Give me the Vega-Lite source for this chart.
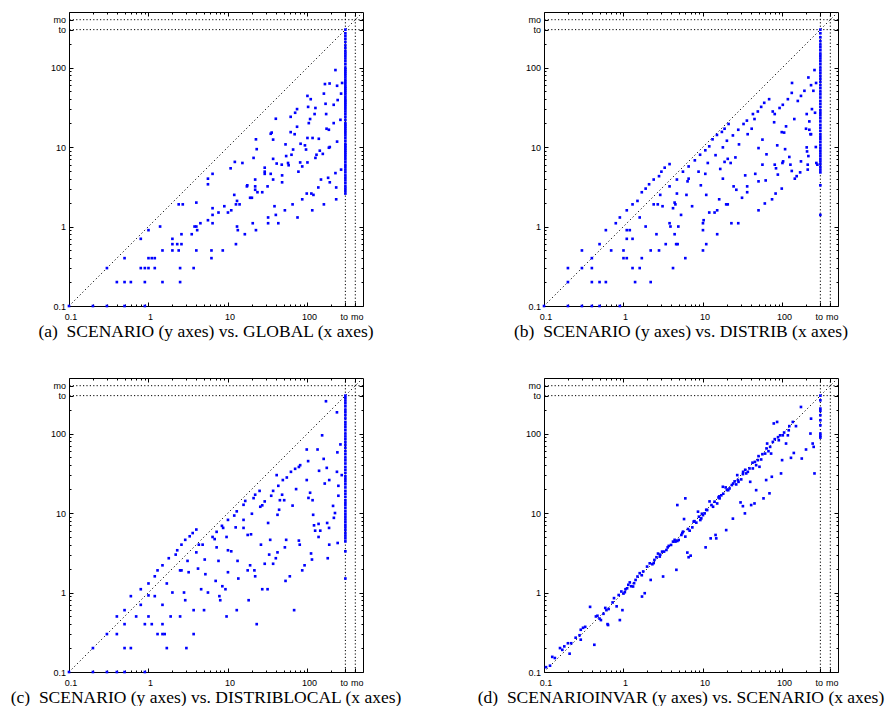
{
"$schema": "https://vega.github.io/schema/vega-lite/v6.json",
"background": "white",
"padding": {"left": 9, "top": 9, "right": 0, "bottom": 0},
"config": {
  "view": {"stroke": "black", "strokeWidth": 1},
  "axis": {"domain": false, "grid": false, "labelFont": "Liberation Sans", "labelFontSize": 9, "labelColor": "black", "tickColor": "black", "tickWidth": 1, "labelFlush": false, "labelOverlap": false, "titleFont": "Liberation Serif", "titleFontSize": 17.5, "titleFontWeight": "normal", "titleColor": "black"},
  "axisX": {"labelPadding": 10},
  "axisY": {"labelPadding": 7.5}
},
"bounds": "flush",
"columns": 2,
"spacing": {"row": 72, "column": 181},
"concat": [
 {"width": 294, "height": 294,
  "layer": [
   {"data": {"name": "guides"}, "mark": {"type": "rule", "color": "black", "strokeWidth": 1, "strokeDash": [1.2, 2.2]}, "encoding": {"x": {"field": "v", "type": "quantitative", "scale": {"type": "log", "domain": [0.1, 500], "nice": false}, "axis": null}}},
   {"data": {"name": "guides"}, "mark": {"type": "rule", "color": "black", "strokeWidth": 1, "strokeDash": [1.2, 2.2]}, "encoding": {"y": {"field": "v", "type": "quantitative", "scale": {"type": "log", "domain": [0.1, 500], "nice": false}, "axis": null}}},
   {"data": {"name": "diag"}, "mark": {"type": "line", "color": "black", "strokeWidth": 1, "strokeDash": [1.2, 2.6]},
    "encoding": {"x": {"field": "v", "type": "quantitative", "scale": {"type": "log", "domain": [0.1, 500], "nice": false}, "axis": {"orient": "top", "values": [0.1,1,10,100,300,400,0.2,0.3,0.4,0.5,0.6,0.7,0.8,0.9,2,3,4,5,6,7,8,9,20,30,40,50,60,70,80,90,200], "labels": false, "title": null, "tickSize": {"condition": {"test": "datum.value==0.1||datum.value==1||datum.value==10||datum.value==100||datum.value==300||datum.value==400", "value": -4}, "value": -2}}},
                 "y": {"field": "v", "type": "quantitative", "scale": {"type": "log", "domain": [0.1, 500], "nice": false}, "axis": {"orient": "right", "values": [0.1,1,10,100,300,400,0.2,0.3,0.4,0.5,0.6,0.7,0.8,0.9,2,3,4,5,6,7,8,9,20,30,40,50,60,70,80,90,200], "labels": false, "title": null, "tickSize": {"condition": {"test": "datum.value==0.1||datum.value==1||datum.value==10||datum.value==100||datum.value==300||datum.value==400", "value": -4}, "value": -2}}}}},
   {"data": {"name": "a"}, "mark": {"type": "square", "size": 7, "color": "#0000ff", "opacity": 1},
    "encoding": {"x": {"field": "x", "type": "quantitative", "scale": {"type": "log", "domain": [0.1, 500], "nice": false}, "axis": {"orient": "bottom", "values": [0.1,1,10,100,300,400,0.2,0.3,0.4,0.5,0.6,0.7,0.8,0.9,2,3,4,5,6,7,8,9,20,30,40,50,60,70,80,90,200], "labelExpr": "datum.value==300?'to':datum.value==400?'mo':datum.value==0.1?'0.1':datum.value==1?'1':datum.value==10?'10':datum.value==100?'100':''", "labelOffset": {"condition": {"test": "datum.value==300", "value": -1.5}, "value": 1.5}, "tickSize": {"condition": {"test": "datum.value==0.1||datum.value==1||datum.value==10||datum.value==100||datum.value==300||datum.value==400", "value": -4}, "value": -2}, "title": "(a)\u00a0\u00a0SCENARIO (y axes) vs. GLOBAL (x axes)", "titleX": 136.5, "titleY": 25, "titleBaseline": "middle", "titleAlign": "center"}},
                 "y": {"field": "y", "type": "quantitative", "scale": {"type": "log", "domain": [0.1, 500], "nice": false}, "axis": {"orient": "left", "values": [0.1,1,10,100,300,400,0.2,0.3,0.4,0.5,0.6,0.7,0.8,0.9,2,3,4,5,6,7,8,9,20,30,40,50,60,70,80,90,200], "labelExpr": "datum.value==300?'to':datum.value==400?'mo':datum.value==0.1?'0.1':datum.value==1?'1':datum.value==10?'10':datum.value==100?'100':''", "tickSize": {"condition": {"test": "datum.value==0.1||datum.value==1||datum.value==10||datum.value==100||datum.value==300||datum.value==400", "value": -4}, "value": -2}, "title": null}}}}
  ],
  "resolve": {"axis": {"x": "independent", "y": "independent"}}
 },
 {"width": 294, "height": 294,
  "layer": [
   {"data": {"name": "guides"}, "mark": {"type": "rule", "color": "black", "strokeWidth": 1, "strokeDash": [1.2, 2.2]}, "encoding": {"x": {"field": "v", "type": "quantitative", "scale": {"type": "log", "domain": [0.1, 500], "nice": false}, "axis": null}}},
   {"data": {"name": "guides"}, "mark": {"type": "rule", "color": "black", "strokeWidth": 1, "strokeDash": [1.2, 2.2]}, "encoding": {"y": {"field": "v", "type": "quantitative", "scale": {"type": "log", "domain": [0.1, 500], "nice": false}, "axis": null}}},
   {"data": {"name": "diag"}, "mark": {"type": "line", "color": "black", "strokeWidth": 1, "strokeDash": [1.2, 2.6]},
    "encoding": {"x": {"field": "v", "type": "quantitative", "scale": {"type": "log", "domain": [0.1, 500], "nice": false}, "axis": {"orient": "top", "values": [0.1,1,10,100,300,400,0.2,0.3,0.4,0.5,0.6,0.7,0.8,0.9,2,3,4,5,6,7,8,9,20,30,40,50,60,70,80,90,200], "labels": false, "title": null, "tickSize": {"condition": {"test": "datum.value==0.1||datum.value==1||datum.value==10||datum.value==100||datum.value==300||datum.value==400", "value": -4}, "value": -2}}},
                 "y": {"field": "v", "type": "quantitative", "scale": {"type": "log", "domain": [0.1, 500], "nice": false}, "axis": {"orient": "right", "values": [0.1,1,10,100,300,400,0.2,0.3,0.4,0.5,0.6,0.7,0.8,0.9,2,3,4,5,6,7,8,9,20,30,40,50,60,70,80,90,200], "labels": false, "title": null, "tickSize": {"condition": {"test": "datum.value==0.1||datum.value==1||datum.value==10||datum.value==100||datum.value==300||datum.value==400", "value": -4}, "value": -2}}}}},
   {"data": {"name": "b"}, "mark": {"type": "square", "size": 7, "color": "#0000ff", "opacity": 1},
    "encoding": {"x": {"field": "x", "type": "quantitative", "scale": {"type": "log", "domain": [0.1, 500], "nice": false}, "axis": {"orient": "bottom", "values": [0.1,1,10,100,300,400,0.2,0.3,0.4,0.5,0.6,0.7,0.8,0.9,2,3,4,5,6,7,8,9,20,30,40,50,60,70,80,90,200], "labelExpr": "datum.value==300?'to':datum.value==400?'mo':datum.value==0.1?'0.1':datum.value==1?'1':datum.value==10?'10':datum.value==100?'100':''", "labelOffset": {"condition": {"test": "datum.value==300", "value": -1.5}, "value": 1.5}, "tickSize": {"condition": {"test": "datum.value==0.1||datum.value==1||datum.value==10||datum.value==100||datum.value==300||datum.value==400", "value": -4}, "value": -2}, "title": "(b)\u00a0\u00a0SCENARIO (y axes) vs. DISTRIB (x axes)", "titleX": 136.5, "titleY": 25, "titleBaseline": "middle", "titleAlign": "center"}},
                 "y": {"field": "y", "type": "quantitative", "scale": {"type": "log", "domain": [0.1, 500], "nice": false}, "axis": {"orient": "left", "values": [0.1,1,10,100,300,400,0.2,0.3,0.4,0.5,0.6,0.7,0.8,0.9,2,3,4,5,6,7,8,9,20,30,40,50,60,70,80,90,200], "labelExpr": "datum.value==300?'to':datum.value==400?'mo':datum.value==0.1?'0.1':datum.value==1?'1':datum.value==10?'10':datum.value==100?'100':''", "tickSize": {"condition": {"test": "datum.value==0.1||datum.value==1||datum.value==10||datum.value==100||datum.value==300||datum.value==400", "value": -4}, "value": -2}, "title": null}}}}
  ],
  "resolve": {"axis": {"x": "independent", "y": "independent"}}
 },
 {"width": 294, "height": 294,
  "layer": [
   {"data": {"name": "guides"}, "mark": {"type": "rule", "color": "black", "strokeWidth": 1, "strokeDash": [1.2, 2.2]}, "encoding": {"x": {"field": "v", "type": "quantitative", "scale": {"type": "log", "domain": [0.1, 500], "nice": false}, "axis": null}}},
   {"data": {"name": "guides"}, "mark": {"type": "rule", "color": "black", "strokeWidth": 1, "strokeDash": [1.2, 2.2]}, "encoding": {"y": {"field": "v", "type": "quantitative", "scale": {"type": "log", "domain": [0.1, 500], "nice": false}, "axis": null}}},
   {"data": {"name": "diag"}, "mark": {"type": "line", "color": "black", "strokeWidth": 1, "strokeDash": [1.2, 2.6]},
    "encoding": {"x": {"field": "v", "type": "quantitative", "scale": {"type": "log", "domain": [0.1, 500], "nice": false}, "axis": {"orient": "top", "values": [0.1,1,10,100,300,400,0.2,0.3,0.4,0.5,0.6,0.7,0.8,0.9,2,3,4,5,6,7,8,9,20,30,40,50,60,70,80,90,200], "labels": false, "title": null, "tickSize": {"condition": {"test": "datum.value==0.1||datum.value==1||datum.value==10||datum.value==100||datum.value==300||datum.value==400", "value": -4}, "value": -2}}},
                 "y": {"field": "v", "type": "quantitative", "scale": {"type": "log", "domain": [0.1, 500], "nice": false}, "axis": {"orient": "right", "values": [0.1,1,10,100,300,400,0.2,0.3,0.4,0.5,0.6,0.7,0.8,0.9,2,3,4,5,6,7,8,9,20,30,40,50,60,70,80,90,200], "labels": false, "title": null, "tickSize": {"condition": {"test": "datum.value==0.1||datum.value==1||datum.value==10||datum.value==100||datum.value==300||datum.value==400", "value": -4}, "value": -2}}}}},
   {"data": {"name": "c"}, "mark": {"type": "square", "size": 7, "color": "#0000ff", "opacity": 1},
    "encoding": {"x": {"field": "x", "type": "quantitative", "scale": {"type": "log", "domain": [0.1, 500], "nice": false}, "axis": {"orient": "bottom", "values": [0.1,1,10,100,300,400,0.2,0.3,0.4,0.5,0.6,0.7,0.8,0.9,2,3,4,5,6,7,8,9,20,30,40,50,60,70,80,90,200], "labelExpr": "datum.value==300?'to':datum.value==400?'mo':datum.value==0.1?'0.1':datum.value==1?'1':datum.value==10?'10':datum.value==100?'100':''", "labelOffset": {"condition": {"test": "datum.value==300", "value": -1.5}, "value": 1.5}, "tickSize": {"condition": {"test": "datum.value==0.1||datum.value==1||datum.value==10||datum.value==100||datum.value==300||datum.value==400", "value": -4}, "value": -2}, "title": "(c)\u00a0\u00a0SCENARIO (y axes) vs. DISTRIBLOCAL (x axes)", "titleX": 136.5, "titleY": 25, "titleBaseline": "middle", "titleAlign": "center"}},
                 "y": {"field": "y", "type": "quantitative", "scale": {"type": "log", "domain": [0.1, 500], "nice": false}, "axis": {"orient": "left", "values": [0.1,1,10,100,300,400,0.2,0.3,0.4,0.5,0.6,0.7,0.8,0.9,2,3,4,5,6,7,8,9,20,30,40,50,60,70,80,90,200], "labelExpr": "datum.value==300?'to':datum.value==400?'mo':datum.value==0.1?'0.1':datum.value==1?'1':datum.value==10?'10':datum.value==100?'100':''", "tickSize": {"condition": {"test": "datum.value==0.1||datum.value==1||datum.value==10||datum.value==100||datum.value==300||datum.value==400", "value": -4}, "value": -2}, "title": null}}}}
  ],
  "resolve": {"axis": {"x": "independent", "y": "independent"}}
 },
 {"width": 294, "height": 294,
  "layer": [
   {"data": {"name": "guides"}, "mark": {"type": "rule", "color": "black", "strokeWidth": 1, "strokeDash": [1.2, 2.2]}, "encoding": {"x": {"field": "v", "type": "quantitative", "scale": {"type": "log", "domain": [0.1, 500], "nice": false}, "axis": null}}},
   {"data": {"name": "guides"}, "mark": {"type": "rule", "color": "black", "strokeWidth": 1, "strokeDash": [1.2, 2.2]}, "encoding": {"y": {"field": "v", "type": "quantitative", "scale": {"type": "log", "domain": [0.1, 500], "nice": false}, "axis": null}}},
   {"data": {"name": "diag"}, "mark": {"type": "line", "color": "black", "strokeWidth": 1, "strokeDash": [1.2, 2.6]},
    "encoding": {"x": {"field": "v", "type": "quantitative", "scale": {"type": "log", "domain": [0.1, 500], "nice": false}, "axis": {"orient": "top", "values": [0.1,1,10,100,300,400,0.2,0.3,0.4,0.5,0.6,0.7,0.8,0.9,2,3,4,5,6,7,8,9,20,30,40,50,60,70,80,90,200], "labels": false, "title": null, "tickSize": {"condition": {"test": "datum.value==0.1||datum.value==1||datum.value==10||datum.value==100||datum.value==300||datum.value==400", "value": -4}, "value": -2}}},
                 "y": {"field": "v", "type": "quantitative", "scale": {"type": "log", "domain": [0.1, 500], "nice": false}, "axis": {"orient": "right", "values": [0.1,1,10,100,300,400,0.2,0.3,0.4,0.5,0.6,0.7,0.8,0.9,2,3,4,5,6,7,8,9,20,30,40,50,60,70,80,90,200], "labels": false, "title": null, "tickSize": {"condition": {"test": "datum.value==0.1||datum.value==1||datum.value==10||datum.value==100||datum.value==300||datum.value==400", "value": -4}, "value": -2}}}}},
   {"data": {"name": "d"}, "mark": {"type": "square", "size": 7, "color": "#0000ff", "opacity": 1},
    "encoding": {"x": {"field": "x", "type": "quantitative", "scale": {"type": "log", "domain": [0.1, 500], "nice": false}, "axis": {"orient": "bottom", "values": [0.1,1,10,100,300,400,0.2,0.3,0.4,0.5,0.6,0.7,0.8,0.9,2,3,4,5,6,7,8,9,20,30,40,50,60,70,80,90,200], "labelExpr": "datum.value==300?'to':datum.value==400?'mo':datum.value==0.1?'0.1':datum.value==1?'1':datum.value==10?'10':datum.value==100?'100':''", "labelOffset": {"condition": {"test": "datum.value==300", "value": -1.5}, "value": 1.5}, "tickSize": {"condition": {"test": "datum.value==0.1||datum.value==1||datum.value==10||datum.value==100||datum.value==300||datum.value==400", "value": -4}, "value": -2}, "title": "(d)\u00a0\u00a0SCENARIOINVAR (y axes) vs. SCENARIO (x axes)", "titleX": 136.5, "titleY": 25, "titleBaseline": "middle", "titleAlign": "center"}},
                 "y": {"field": "y", "type": "quantitative", "scale": {"type": "log", "domain": [0.1, 500], "nice": false}, "axis": {"orient": "left", "values": [0.1,1,10,100,300,400,0.2,0.3,0.4,0.5,0.6,0.7,0.8,0.9,2,3,4,5,6,7,8,9,20,30,40,50,60,70,80,90,200], "labelExpr": "datum.value==300?'to':datum.value==400?'mo':datum.value==0.1?'0.1':datum.value==1?'1':datum.value==10?'10':datum.value==100?'100':''", "tickSize": {"condition": {"test": "datum.value==0.1||datum.value==1||datum.value==10||datum.value==100||datum.value==300||datum.value==400", "value": -4}, "value": -2}, "title": null}}}}
  ],
  "resolve": {"axis": {"x": "independent", "y": "independent"}}
 }
],
"datasets": {
 "guides": [{"v": 300}, {"v": 400}],
 "diag": [{"v": 0.1}, {"v": 500}],
 "a": [
  {"x":0.1,"y":0.1},{"x":0.2,"y":0.1},{"x":0.3,"y":0.1},{"x":0.5,"y":0.1},{"x":0.9,"y":0.1},
  {"x":0.3,"y":0.3},{"x":0.4,"y":0.2},{"x":0.5,"y":0.4},{"x":0.5,"y":0.2},{"x":0.6,"y":0.2},{"x":0.8,"y":0.7},{"x":0.8,"y":0.3},{"x":0.9,"y":0.3},{"x":0.9,"y":0.2},{"x":1.0,"y":0.3},{"x":1.0,"y":0.9},{"x":1.0,"y":0.4},{"x":1.1,"y":0.4},{"x":1.2,"y":0.4},{"x":1.2,"y":0.3},{"x":1.4,"y":1.0},{"x":1.5,"y":0.5},{"x":1.5,"y":0.2},{"x":2,"y":0.7},{"x":2,"y":0.6},{"x":2,"y":0.5},{"x":2.3,"y":0.6},{"x":2.4,"y":0.5},{"x":2.4,"y":1.9},{"x":2.7,"y":1.9},{"x":2.6,"y":0.6},{"x":2.5,"y":0.3},{"x":2.5,"y":0.2},{"x":2.6,"y":0.8},{"x":3.5,"y":0.8},{"x":3.7,"y":0.3},{"x":3.8,"y":1.0},{"x":4.0,"y":1.0},{"x":4.1,"y":0.9},{"x":4.0,"y":2.0},{"x":4.0,"y":0.5},{"x":4.5,"y":1.1},{"x":5.6,"y":4.0},{"x":5.6,"y":3.4},{"x":5.6,"y":1.2},{"x":6.2,"y":0.5},{"x":6.2,"y":0.4},{"x":6.4,"y":4.6},{"x":6.4,"y":1.7},{"x":6.4,"y":1.4},{"x":6.4,"y":1.1},{"x":7.6,"y":1.5},{"x":8.6,"y":0.5},{"x":9,"y":1.8},{"x":10,"y":1.5},{"x":10.8,"y":5.4},{"x":11,"y":1.6},{"x":12,"y":2.5},{"x":12.2,"y":6.5},{"x":12.6,"y":0.6},{"x":12.6,"y":1.9},{"x":13,"y":1.0},{"x":13.3,"y":0.9},{"x":13,"y":2.1},{"x":14,"y":1.9},{"x":15.2,"y":6.3},{"x":16.3,"y":0.8},{"x":17.3,"y":3.2},{"x":17.5,"y":3.3},{"x":19,"y":2.3},{"x":20,"y":2.3},{"x":20.5,"y":1.1},{"x":21,"y":7.3},{"x":22,"y":3.9},{"x":22,"y":3.2},{"x":22,"y":2.9},{"x":22.5,"y":12.5},{"x":23,"y":9.4},{"x":22.5,"y":0.9},{"x":23.5,"y":2.7},{"x":27,"y":2.7},{"x":29,"y":5.5},{"x":29,"y":4.9},{"x":29,"y":4.6},{"x":31.5,"y":3.2},{"x":32,"y":1.3},{"x":32,"y":1.1},{"x":34.5,"y":14.7},{"x":35.5,"y":15.2},{"x":34.5,"y":4.6},{"x":37,"y":12.4},{"x":37,"y":3.9},{"x":37,"y":7.1},{"x":38.5,"y":1.8},{"x":40,"y":1.4},{"x":40,"y":22.7},{"x":41,"y":6.2},{"x":43,"y":1.1},{"x":47.5,"y":6.0},{"x":48,"y":4.4},{"x":48,"y":3.6},{"x":52,"y":1.6},{"x":53,"y":10.8},{"x":54,"y":7.7},{"x":57,"y":6.3},{"x":58,"y":5.9},{"x":61.5,"y":24},{"x":61.5,"y":15.4},{"x":63,"y":8.0},{"x":65,"y":1.9},{"x":66,"y":9.3},{"x":69,"y":14.5},{"x":70,"y":27},{"x":74,"y":30},{"x":74,"y":18},{"x":75,"y":1.3},{"x":77,"y":4.9},{"x":81,"y":6.4},{"x":82,"y":11},{"x":86,"y":5.7},{"x":86,"y":2.2},{"x":93,"y":10.5},{"x":96,"y":9.3},{"x":98,"y":2.6},{"x":100,"y":44},{"x":100,"y":13},{"x":100,"y":6.4},{"x":102,"y":32},{"x":104,"y":20},{"x":108,"y":22.5},{"x":110,"y":40},{"x":112,"y":2.6},{"x":115,"y":1.6},{"x":116,"y":13},{"x":119,"y":2.5},{"x":123,"y":26},{"x":126,"y":31},{"x":126,"y":7.3},{"x":130,"y":8.0},{"x":137,"y":3.1},{"x":139,"y":12.7},{"x":143,"y":9.0},{"x":148,"y":3.9},{"x":156,"y":8.2},{"x":161,"y":47},{"x":166,"y":62},{"x":190,"y":63},{"x":169,"y":35},{"x":172,"y":26},{"x":174,"y":17},{"x":186,"y":16.5},{"x":186,"y":9.8},{"x":191,"y":10},{"x":161,"y":1.9},{"x":182,"y":4.1},{"x":191,"y":3.6},{"x":214,"y":20},{"x":214,"y":34},{"x":225,"y":93},{"x":225,"y":4.7},{"x":230,"y":3.1},{"x":230,"y":2.2},{"x":236,"y":59},{"x":236,"y":11.7},{"x":240,"y":39},{"x":260,"y":22},{"x":265,"y":5.2},{"x":265,"y":47},{"x":273,"y":64},
  {"x":300,"y":300},{"x":300,"y":270},{"x":300,"y":250},{"x":300,"y":230},{"x":300,"y":210},{"x":300,"y":190},{"x":300,"y":175},{"x":300,"y":160},{"x":300,"y":150},{"x":300,"y":140},{"x":300,"y":130},{"x":300,"y":120},{"x":300,"y":110},{"x":300,"y":100},{"x":300,"y":95},{"x":300,"y":90},{"x":300,"y":85},{"x":300,"y":80},{"x":300,"y":75},{"x":300,"y":70},{"x":300,"y":66},{"x":300,"y":62},{"x":300,"y":58},{"x":300,"y":55},{"x":300,"y":52},{"x":300,"y":49},{"x":300,"y":46},{"x":300,"y":43},{"x":300,"y":40},{"x":300,"y":38},{"x":300,"y":36},{"x":300,"y":34},{"x":300,"y":32},{"x":300,"y":30},{"x":300,"y":28},{"x":300,"y":26},{"x":300,"y":24},{"x":300,"y":22},{"x":300,"y":20},{"x":300,"y":19},{"x":300,"y":18},{"x":300,"y":17},{"x":300,"y":16},{"x":300,"y":15},{"x":300,"y":14},{"x":300,"y":13},{"x":300,"y":12},{"x":300,"y":11},{"x":300,"y":10.5},{"x":300,"y":10},{"x":300,"y":9.5},{"x":300,"y":9},{"x":300,"y":8.5},{"x":300,"y":8},{"x":300,"y":7.5},{"x":300,"y":7},{"x":300,"y":6.5},{"x":300,"y":6},{"x":300,"y":5.6},{"x":300,"y":5.2},{"x":300,"y":4.8},{"x":300,"y":4.4},{"x":300,"y":4.1},{"x":300,"y":3.8},{"x":300,"y":3.5},{"x":300,"y":3.2},{"x":300,"y":3.0},{"x":300,"y":2.8},{"x":300,"y":2.6}
 ],
 "b": [
  {"x":0.1,"y":0.1},{"x":0.2,"y":0.1},{"x":0.3,"y":0.1},{"x":0.4,"y":0.1},{"x":0.5,"y":0.1},{"x":0.9,"y":0.1},
  {"x":0.2,"y":0.3},{"x":0.2,"y":0.2},{"x":0.3,"y":0.5},{"x":0.3,"y":0.3},{"x":0.4,"y":0.4},{"x":0.4,"y":0.3},{"x":0.4,"y":0.2},{"x":0.5,"y":0.6},{"x":0.5,"y":0.2},{"x":0.6,"y":0.2},{"x":0.6,"y":0.9},{"x":0.7,"y":0.5},{"x":0.8,"y":1.1},{"x":0.9,"y":1.3},{"x":1.0,"y":0.5},{"x":1.0,"y":0.4},{"x":1.1,"y":1.6},{"x":1.1,"y":0.9},{"x":1.2,"y":0.9},{"x":1.1,"y":0.7},{"x":1.1,"y":0.4},{"x":1.3,"y":1.9},{"x":1.3,"y":0.7},{"x":1.3,"y":0.3},{"x":1.4,"y":0.2},{"x":1.5,"y":2.1},{"x":1.6,"y":1.3},{"x":1.6,"y":0.3},{"x":1.7,"y":2.7},{"x":1.7,"y":0.4},{"x":1.9,"y":3.0},{"x":1.9,"y":1.0},{"x":2.1,"y":3.4},{"x":2.2,"y":0.5},{"x":2.2,"y":0.2},{"x":2.4,"y":3.9},{"x":2.4,"y":1.9},{"x":2.7,"y":1.9},{"x":2.6,"y":0.8},{"x":2.8,"y":4.3},{"x":2.8,"y":0.5},{"x":2.9,"y":2.5},{"x":3.0,"y":4.9},{"x":3.1,"y":1.8},{"x":3.3,"y":5.5},{"x":3.4,"y":0.6},{"x":3.8,"y":6.1},{"x":3.8,"y":3.2},{"x":3.8,"y":1.1},{"x":3.9,"y":1.0},{"x":4.2,"y":1.7},{"x":4.4,"y":2.0},{"x":4.5,"y":1.9},{"x":4.2,"y":0.3},{"x":4.4,"y":0.8},{"x":4.6,"y":0.6},{"x":4.8,"y":0.6},{"x":4.7,"y":3.9},{"x":4.7,"y":2.6},{"x":4.9,"y":1.0},{"x":5.3,"y":1.4},{"x":5.6,"y":4.9},{"x":6.0,"y":0.4},{"x":6.2,"y":2.5},{"x":6.4,"y":3.7},{"x":6.6,"y":4.0},{"x":6.6,"y":5.7},{"x":7.3,"y":1.8},{"x":7.9,"y":6.8},{"x":8.8,"y":4.9},{"x":9.2,"y":8.0},{"x":9.4,"y":3.3},{"x":10,"y":1.1},{"x":10.2,"y":1.2},{"x":10,"y":0.9},{"x":10,"y":0.5},{"x":10.7,"y":9.1},{"x":10.7,"y":4.6},{"x":11,"y":0.6},{"x":11.5,"y":6.3},{"x":11,"y":2.5},{"x":12,"y":10.2},{"x":12,"y":1.5},{"x":13.2,"y":12.5},{"x":14,"y":1.5},{"x":14.4,"y":7.9},{"x":15,"y":14.2},{"x":15.1,"y":1.6},{"x":15.1,"y":0.8},{"x":16,"y":2.2},{"x":16.5,"y":5.3},{"x":17.3,"y":15.5},{"x":17.8,"y":9.9},{"x":17.8,"y":4.0},{"x":18.7,"y":17},{"x":18.7,"y":6.5},{"x":19.6,"y":1.9},{"x":20.5,"y":1.9},{"x":20,"y":12},{"x":20.5,"y":7.1},{"x":21,"y":19.5},{"x":22.3,"y":6.3},{"x":22.8,"y":1.1},{"x":23.8,"y":14},{"x":24.3,"y":3.2},{"x":26.3,"y":2.9},{"x":27.8,"y":1.1},{"x":25.6,"y":7.4},{"x":27.8,"y":16.5},{"x":28.4,"y":10.8},{"x":31,"y":2.3},{"x":32.4,"y":19.5},{"x":34,"y":4.4},{"x":35.7,"y":21.5},{"x":36,"y":3.2},{"x":36,"y":2.7},{"x":36.5,"y":14.5},{"x":41,"y":17},{"x":42.5,"y":26},{"x":44.5,"y":22.5},{"x":45.5,"y":4.6},{"x":49,"y":28},{"x":50,"y":9.7},{"x":50,"y":1.6},{"x":50,"y":3.7},{"x":54,"y":32},{"x":56,"y":6.0},{"x":56,"y":12.4},{"x":59,"y":36},{"x":60,"y":1.95},{"x":61.5,"y":3.8},{"x":63,"y":8.1},{"x":68,"y":40},{"x":74,"y":2.2},{"x":75.5,"y":28},{"x":78.6,"y":20.5},{"x":80,"y":26},{"x":80,"y":6.0},{"x":83,"y":5.4},{"x":82,"y":2.6},{"x":86,"y":10.5},{"x":87.5,"y":4.5},{"x":92,"y":31},{"x":98,"y":15.4},{"x":101,"y":34},{"x":98,"y":3.0},{"x":100,"y":6.3},{"x":102,"y":6.6},{"x":105,"y":15.2},{"x":108,"y":9.4},{"x":111,"y":18.2},{"x":117,"y":40},{"x":122,"y":7.5},{"x":126,"y":6.0},{"x":131,"y":5.0},{"x":131,"y":48},{"x":132,"y":64},{"x":141,"y":22.5},{"x":143,"y":4.0},{"x":151,"y":4.3},{"x":156,"y":38},{"x":167,"y":4.8},{"x":171,"y":44},{"x":171,"y":6.6},{"x":189,"y":51},{"x":198,"y":17},{"x":202,"y":26},{"x":202,"y":9.9},{"x":204,"y":8.8},{"x":208,"y":6.0},{"x":208,"y":5.2},{"x":212,"y":7.7},{"x":212,"y":75},{"x":218,"y":21},{"x":218,"y":16.5},{"x":225,"y":14.5},{"x":229,"y":14.5},{"x":229,"y":60},{"x":235,"y":30},{"x":245,"y":51},{"x":253,"y":93},{"x":257,"y":27},{"x":265,"y":64},{"x":263,"y":10},{"x":267,"y":6.3},{"x":275,"y":6.0},
  {"x":300,"y":300},{"x":300,"y":270},{"x":300,"y":240},{"x":300,"y":215},{"x":300,"y":195},{"x":300,"y":180},{"x":300,"y":165},{"x":300,"y":150},{"x":300,"y":140},{"x":300,"y":130},{"x":300,"y":120},{"x":300,"y":110},{"x":300,"y":100},{"x":300,"y":92},{"x":300,"y":85},{"x":300,"y":78},{"x":300,"y":72},{"x":300,"y":66},{"x":300,"y":60},{"x":300,"y":55},{"x":300,"y":50},{"x":300,"y":46},{"x":300,"y":42},{"x":300,"y":38},{"x":300,"y":35},{"x":300,"y":32},{"x":300,"y":29},{"x":300,"y":27},{"x":300,"y":25},{"x":300,"y":23},{"x":300,"y":21},{"x":300,"y":19},{"x":300,"y":17.5},{"x":300,"y":16},{"x":300,"y":14.5},{"x":300,"y":13.5},{"x":300,"y":12.5},{"x":300,"y":11.5},{"x":300,"y":10.5},{"x":300,"y":9.7},{"x":300,"y":9},{"x":300,"y":8.3},{"x":300,"y":7.7},{"x":300,"y":7.1},{"x":300,"y":6.6},{"x":300,"y":6.1},{"x":300,"y":5.6},{"x":300,"y":5.2},{"x":300,"y":4.8},{"x":300,"y":3.3},{"x":300,"y":1.4}
 ],
 "c": [
  {"x":0.1,"y":0.1},{"x":0.2,"y":0.1},{"x":0.3,"y":0.1},{"x":0.4,"y":0.1},{"x":0.5,"y":0.1},{"x":0.9,"y":0.1},
  {"x":0.2,"y":0.2},{"x":0.3,"y":0.3},{"x":0.4,"y":0.5},{"x":0.4,"y":0.3},{"x":0.5,"y":0.6},{"x":0.5,"y":0.4},{"x":0.5,"y":0.2},{"x":0.6,"y":0.2},{"x":0.6,"y":0.9},{"x":0.7,"y":0.5},{"x":0.8,"y":1.1},{"x":0.8,"y":0.7},{"x":0.9,"y":0.4},{"x":1.0,"y":1.3},{"x":1.0,"y":0.92},{"x":1.0,"y":0.5},{"x":1.1,"y":0.4},{"x":1.2,"y":1.6},{"x":1.2,"y":0.9},{"x":1.3,"y":1.9},{"x":1.3,"y":0.3},{"x":1.5,"y":2.2},{"x":1.5,"y":0.7},{"x":1.5,"y":0.4},{"x":1.5,"y":0.3},{"x":1.6,"y":0.3},{"x":1.7,"y":1.3},{"x":1.7,"y":0.2},{"x":1.8,"y":2.7},{"x":1.9,"y":0.5},{"x":2.0,"y":1.0},{"x":2.2,"y":3.0},{"x":2.3,"y":3.4},{"x":2.5,"y":1.9},{"x":2.6,"y":1.9},{"x":2.5,"y":0.5},{"x":2.6,"y":4.0},{"x":2.8,"y":1.0},{"x":2.9,"y":0.8},{"x":2.9,"y":4.6},{"x":3.0,"y":0.2},{"x":3.1,"y":2.5},{"x":3.2,"y":1.8},{"x":3.3,"y":5.1},{"x":3.6,"y":5.6},{"x":3.7,"y":0.6},{"x":3.7,"y":0.3},{"x":4.0,"y":6.2},{"x":4.0,"y":3.2},{"x":4.2,"y":2.0},{"x":4.3,"y":4.0},{"x":4.8,"y":4.0},{"x":4.6,"y":1.1},{"x":5.0,"y":0.6},{"x":5.1,"y":2.6},{"x":5.2,"y":1.7},{"x":5.6,"y":1.0},{"x":6.4,"y":5.0},{"x":6.8,"y":4.7},{"x":7.2,"y":3.7},{"x":7.0,"y":1.4},{"x":7.2,"y":5.8},{"x":7.6,"y":2.5},{"x":7.8,"y":0.9},{"x":8.0,"y":0.8},{"x":8.4,"y":6.9},{"x":8.7,"y":6.5},{"x":8.5,"y":1.2},{"x":9.3,"y":1.1},{"x":9.6,"y":5.0},{"x":10,"y":3.4},{"x":10,"y":1.8},{"x":9.6,"y":0.5},{"x":10,"y":8.2},{"x":11,"y":3.3},{"x":12,"y":9.3},{"x":12.5,"y":6.6},{"x":12.9,"y":10.5},{"x":13.2,"y":2.5},{"x":13.5,"y":1.5},{"x":12.9,"y":0.6},{"x":15.7,"y":12.7},{"x":15.7,"y":8.2},{"x":15.7,"y":6.5},{"x":16.5,"y":14.2},{"x":17.7,"y":5.3},{"x":17.7,"y":1.9},{"x":18.2,"y":0.8},{"x":19,"y":2.2},{"x":19.5,"y":5.4},{"x":20,"y":9.8},{"x":21,"y":15.4},{"x":22,"y":17},{"x":21.5,"y":1.9},{"x":22,"y":1.6},{"x":23,"y":0.4},{"x":25,"y":19},{"x":25.5,"y":12},{"x":27,"y":12.5},{"x":26,"y":4.0},{"x":27,"y":1.1},{"x":29,"y":14},{"x":29,"y":2.3},{"x":31.5,"y":1.1},{"x":32,"y":7.5},{"x":33,"y":3.0},{"x":34,"y":4.6},{"x":35,"y":16.5},{"x":37,"y":19},{"x":37,"y":2.3},{"x":40,"y":2.7},{"x":41,"y":30},{"x":42,"y":9.5},{"x":42,"y":3.2},{"x":43,"y":22},{"x":44,"y":11},{"x":45,"y":14.5},{"x":48,"y":17},{"x":49,"y":26},{"x":51,"y":14.5},{"x":52,"y":3.7},{"x":53,"y":1.4},{"x":55,"y":28},{"x":54,"y":4.6},{"x":60,"y":1.6},{"x":62,"y":33},{"x":65,"y":12.4},{"x":68,"y":0.6},{"x":70,"y":36},{"x":72,"y":20},{"x":78,"y":4.5},{"x":80,"y":4.0},{"x":78,"y":38},{"x":81,"y":40},{"x":86,"y":1.9},{"x":92,"y":2.2},{"x":98,"y":63},{"x":102,"y":45},{"x":98,"y":26},{"x":103,"y":15.5},{"x":108,"y":18},{"x":111,"y":3.1},{"x":114,"y":2.6},{"x":116,"y":14.5},{"x":118,"y":9.5},{"x":121,"y":7},{"x":125,"y":6},{"x":134,"y":63},{"x":138,"y":7.3},{"x":138,"y":5.0},{"x":140,"y":34},{"x":145,"y":6},{"x":153,"y":95},{"x":160,"y":48},{"x":165,"y":23.5},{"x":175,"y":37},{"x":171,"y":255},{"x":177,"y":7.5},{"x":180,"y":2.7},{"x":187,"y":6.5},{"x":188,"y":26},{"x":188,"y":4.0},{"x":210,"y":12.3},{"x":215,"y":8.7},{"x":222,"y":10},{"x":235,"y":33},{"x":235,"y":185},{"x":238,"y":58},{"x":240,"y":4.2},{"x":245,"y":16.5},{"x":245,"y":22},{"x":260,"y":73},{"x":270,"y":30},
  {"x":300,"y":300},{"x":300,"y":280},{"x":300,"y":260},{"x":300,"y":240},{"x":300,"y":220},{"x":300,"y":200},{"x":300,"y":185},{"x":300,"y":170},{"x":300,"y":155},{"x":300,"y":140},{"x":300,"y":130},{"x":300,"y":120},{"x":300,"y":110},{"x":300,"y":100},{"x":300,"y":92},{"x":300,"y":85},{"x":300,"y":78},{"x":300,"y":72},{"x":300,"y":66},{"x":300,"y":60},{"x":300,"y":55},{"x":300,"y":50},{"x":300,"y":46},{"x":300,"y":42},{"x":300,"y":38},{"x":300,"y":35},{"x":300,"y":32},{"x":300,"y":29},{"x":300,"y":27},{"x":300,"y":25},{"x":300,"y":23},{"x":300,"y":21},{"x":300,"y":19},{"x":300,"y":17.5},{"x":300,"y":16},{"x":300,"y":14.5},{"x":300,"y":13.5},{"x":300,"y":12.5},{"x":300,"y":11.5},{"x":300,"y":10.5},{"x":300,"y":9.7},{"x":300,"y":9},{"x":300,"y":8.3},{"x":300,"y":7.7},{"x":300,"y":7.1},{"x":300,"y":6.6},{"x":300,"y":6.1},{"x":300,"y":5.6},{"x":300,"y":5.2},{"x":300,"y":4.8},{"x":300,"y":4.4},{"x":300,"y":3.3},{"x":300,"y":1.5}
 ],
 "d": [
  {"x":0.106,"y":0.115},{"x":0.119,"y":0.12},{"x":0.127,"y":0.155},{"x":0.137,"y":0.15},{"x":0.159,"y":0.2},{"x":0.17,"y":0.19},{"x":0.18,"y":0.21},{"x":0.2,"y":0.23},{"x":0.22,"y":0.23},{"x":0.21,"y":0.17},{"x":0.25,"y":0.27},{"x":0.28,"y":0.29},{"x":0.29,"y":0.34},{"x":0.29,"y":0.255},{"x":0.31,"y":0.36},{"x":0.33,"y":0.37},{"x":0.38,"y":0.66},{"x":0.43,"y":0.22},{"x":0.47,"y":0.51},{"x":0.5,"y":0.47},{"x":0.52,"y":0.45},{"x":0.56,"y":0.54},{"x":0.59,"y":0.64},{"x":0.61,"y":0.6},{"x":0.63,"y":0.4},{"x":0.64,"y":0.39},{"x":0.73,"y":0.75},{"x":0.76,"y":0.85},{"x":0.82,"y":0.67},{"x":0.87,"y":0.93},{"x":0.9,"y":0.45},{"x":0.94,"y":1.03},{"x":0.97,"y":0.6},{"x":1.04,"y":1.01},{"x":1.06,"y":1.1},{"x":1.11,"y":1.13},{"x":1.15,"y":1.25},{"x":1.2,"y":1.34},{"x":1.32,"y":1.19},{"x":1.36,"y":1.31},{"x":1.42,"y":1.44},{"x":1.5,"y":1.59},{"x":1.6,"y":1.75},{"x":1.71,"y":0.89},{"x":1.77,"y":1.84},{"x":1.85,"y":0.98},{"x":1.98,"y":2.12},{"x":2.14,"y":2.33},{"x":2.2,"y":1.44},{"x":2.31,"y":2.27},{"x":2.45,"y":2.57},{"x":2.6,"y":2.78},{"x":2.72,"y":3.09},{"x":2.86,"y":2.83},{"x":3.06,"y":3.27},{"x":3.15,"y":1.59},{"x":3.24,"y":3.27},{"x":3.47,"y":3.43},{"x":3.71,"y":3.86},{"x":3.97,"y":3.97},{"x":4.2,"y":4.37},{"x":4.5,"y":4.37},{"x":4.76,"y":12.6},{"x":4.76,"y":4.45},{"x":4.63,"y":1.93},{"x":4.95,"y":4.58},{"x":5.35,"y":5.3},{"x":5.61,"y":5.83},{"x":5.78,"y":8.4},{"x":6.0,"y":15.3},{"x":6.0,"y":5.05},{"x":6.36,"y":3.18},{"x":6.49,"y":6.3},{"x":6.6,"y":2.78},{"x":6.8,"y":6.0},{"x":7.0,"y":2.91},{"x":7.35,"y":6.6},{"x":7.64,"y":7.8},{"x":8.25,"y":7.57},{"x":8.66,"y":10.4},{"x":8.9,"y":9.0},{"x":9.27,"y":8.17},{"x":9.53,"y":8.57},{"x":10,"y":9.4},{"x":10.5,"y":9.9},{"x":10.8,"y":3.7},{"x":11.3,"y":10.9},{"x":12.1,"y":14},{"x":12.5,"y":4.8},{"x":12.8,"y":12.6},{"x":13.4,"y":12},{"x":14,"y":13.9},{"x":14.4,"y":5.3},{"x":14.7,"y":4.8},{"x":15.1,"y":13.2},{"x":15.7,"y":15.7},{"x":16.2,"y":15.3},{"x":17,"y":16.7},{"x":17.8,"y":21.4},{"x":19.3,"y":21},{"x":19.6,"y":6.1},{"x":20.8,"y":19.4},{"x":21.6,"y":20.4},{"x":23.1,"y":22.5},{"x":23.8,"y":8.5},{"x":25,"y":25},{"x":26.2,"y":22.9},{"x":27,"y":30},{"x":28,"y":24.7},{"x":29.7,"y":13.6},{"x":30.3,"y":26.5},{"x":31.8,"y":12.2},{"x":31.8,"y":30.9},{"x":33.7,"y":9.9},{"x":35,"y":31.5},{"x":36.7,"y":33},{"x":38.5,"y":36.4},{"x":39.3,"y":24.7},{"x":40.4,"y":12.6},{"x":42.4,"y":36.4},{"x":44.5,"y":13.2},{"x":46.7,"y":40},{"x":46.7,"y":19.4},{"x":49,"y":46.3},{"x":51.4,"y":38.2},{"x":54,"y":47.2},{"x":57.8,"y":15.3},{"x":60.6,"y":56},{"x":62.4,"y":26},{"x":64.2,"y":74.9},{"x":66.7,"y":60},{"x":68.7,"y":17.7},{"x":72,"y":56},{"x":73.5,"y":28.6},{"x":77.8,"y":134},{"x":75.7,"y":78.5},{"x":85.7,"y":140},{"x":90,"y":82.4},{"x":93.5,"y":95},{"x":96,"y":31.5},{"x":99,"y":46.3},{"x":101,"y":95},{"x":105,"y":103},{"x":111,"y":74.9},{"x":117,"y":95},{"x":120,"y":110},{"x":122,"y":124},{"x":128,"y":49.5},{"x":135,"y":140},{"x":139,"y":57},{"x":148,"y":124},{"x":171,"y":216},{"x":175,"y":48.5},{"x":198,"y":63},{"x":225,"y":100},{"x":229,"y":154},{"x":240,"y":74.9},{"x":247,"y":68},{"x":253,"y":31.5},
  {"x":1.25,"y":1.2},{"x":1.7,"y":1.65},{"x":2.4,"y":2.35},{"x":3.6,"y":3.7},{"x":4.4,"y":4.6},{"x":5.5,"y":5.6},{"x":7.8,"y":7.9},{"x":11,"y":11},{"x":16,"y":16.2},{"x":18,"y":17.5},{"x":24,"y":23.5},{"x":32,"y":33},{"x":45,"y":44},{"x":56,"y":55},{"x":70,"y":68},{"x":88,"y":90},{"x":2.9,"y":3.0},{"x":0.45,"y":0.5},{"x":0.65,"y":0.62},{"x":1.0,"y":0.97},{"x":9.7,"y":9.8},{"x":20,"y":19.5},{"x":27.5,"y":26},{"x":34,"y":35},{"x":42,"y":43},{"x":50,"y":52},{"x":63,"y":65},{"x":80,"y":85},
  {"x":300,"y":300},{"x":300,"y":262},{"x":300,"y":206},{"x":300,"y":193},{"x":300,"y":170},{"x":300,"y":147},{"x":300,"y":127},{"x":300,"y":100},{"x":300,"y":94},{"x":300,"y":89}
 ]
}
}
